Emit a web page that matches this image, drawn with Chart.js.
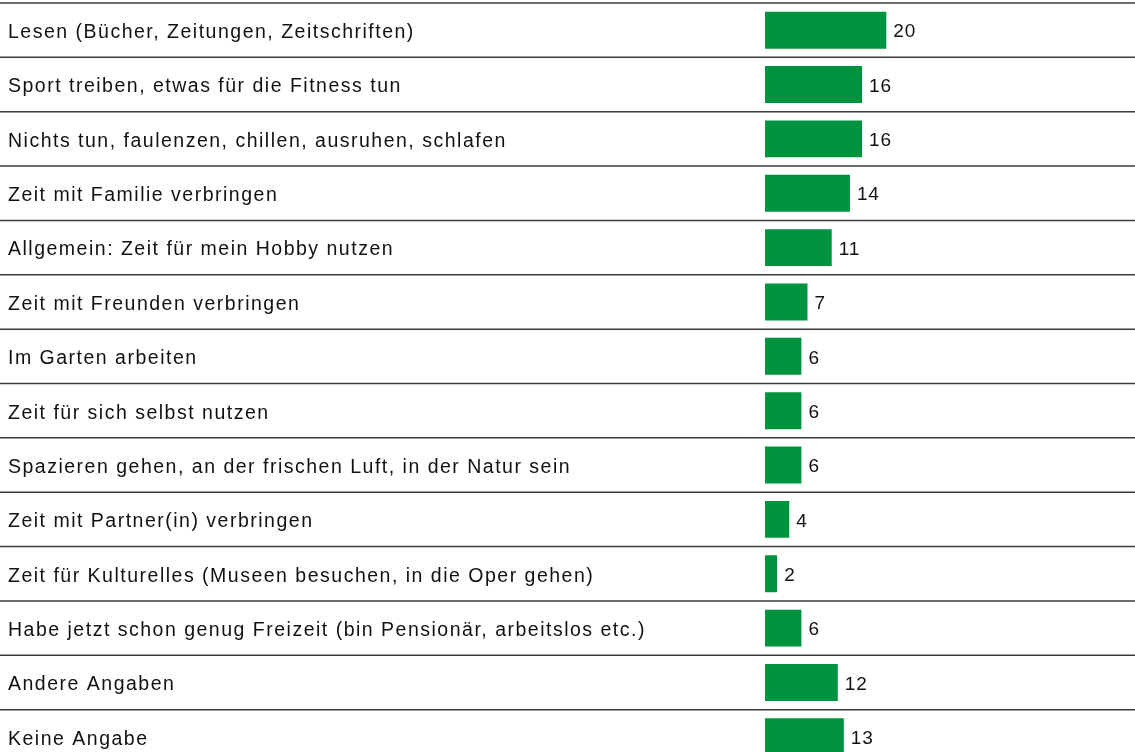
<!DOCTYPE html>
<html>
<head>
<meta charset="utf-8">
<script src="https://cdn.jsdelivr.net/npm/chart.js@4"></script>
<style>
  html, body { margin: 0; padding: 0; background: #fff; overflow: hidden; }
  #wrap { width: 1135px; height: 764px; position: relative; }
</style>
</head>
<body>
<div id="wrap"><canvas id="myChart"></canvas></div>
<script>
// Kategorien und Werte (in Prozent)
const kategorien = [
  'Lesen (Bücher, Zeitungen, Zeitschriften)',
  'Sport treiben, etwas für die Fitness tun',
  'Nichts tun, faulenzen, chillen, ausruhen, schlafen',
  'Zeit mit Familie verbringen',
  'Allgemein: Zeit für mein Hobby nutzen',
  'Zeit mit Freunden verbringen',
  'Im Garten arbeiten',
  'Zeit für sich selbst nutzen',
  'Spazieren gehen, an der frischen Luft, in der Natur sein',
  'Zeit mit Partner(in) verbringen',
  'Zeit für Kulturelles (Museen besuchen, in die Oper gehen)',
  'Habe jetzt schon genug Freizeit (bin Pensionär, arbeitslos etc.)',
  'Andere Angaben',
  'Keine Angabe'
];
const werte = [20, 16, 16, 14, 11, 7, 6, 6, 6, 4, 2, 6, 12, 13];

const schrift = '"Liberation Sans", Arial, sans-serif';

// etwas Sperrung fuer die Beschriftungen
const sperrung = {
  id: 'sperrung',
  beforeDraw(chart) {
    chart.ctx.letterSpacing = '1.5px';
  }
};

// Trennlinien zwischen den Zeilen, über die ganze Breite
const trennlinien = {
  id: 'trennlinien',
  beforeDatasetsDraw(chart) {
    const ctx = chart.ctx;
    const y = chart.scales.y;
    const n = kategorien.length;
    const halb = (y.getPixelForValue(1) - y.getPixelForValue(0)) / 2;
    ctx.save();
    ctx.strokeStyle = '#3c3c3c';
    ctx.lineWidth = 1.5;
    for (let i = 0; i <= n; i++) {
      const py = y.getPixelForValue(i) - halb;
      ctx.beginPath();
      ctx.moveTo(0, py);
      ctx.lineTo(chart.width, py);
      ctx.stroke();
    }
    ctx.restore();
  }
};

// Werte rechts neben den Balken
const wertLabels = {
  id: 'wertLabels',
  afterDatasetsDraw(chart) {
    const ctx = chart.ctx;
    const meta = chart.getDatasetMeta(0);
    ctx.save();
    ctx.letterSpacing = '0.8px';
    ctx.fillStyle = '#111';
    ctx.font = '19px ' + schrift;
    ctx.textBaseline = 'middle';
    meta.data.forEach((bar, i) => {
      ctx.fillText(werte[i], bar.x + 7, bar.y + 2);
    });
    ctx.restore();
  }
};

const ctx = document.getElementById('myChart');
new Chart(ctx, {
  type: 'bar',
  data: {
    labels: kategorien,
    datasets: [{
      data: werte,
      backgroundColor: '#00933f',
      barPercentage: 0.68,
      categoryPercentage: 1
    }]
  },
  options: {
    indexAxis: 'y',
    responsive: true,
    maintainAspectRatio: false,
    animation: false,
    layout: { padding: { top: 3, left: 8, right: 0, bottom: 0 } },
    plugins: {
      legend: { display: false },
      tooltip: { enabled: false }
    },
    scales: {
      x: {
        display: false,
        min: 0,
        max: 61
      },
      y: {
        grid: { display: false },
        border: { display: false },
        ticks: {
          crossAlign: 'far',
          color: '#111',
          font: { size: 19.5, family: schrift },
          padding: 0,
          labelOffset: 2.5
        },
        afterFit(scale) {
          scale.width = 757;
          scale.paddingTop = 0;
          scale.paddingBottom = 0;
        }
      }
    }
  },
  plugins: [sperrung, trennlinien, wertLabels]
});
</script>
</body>
</html>
